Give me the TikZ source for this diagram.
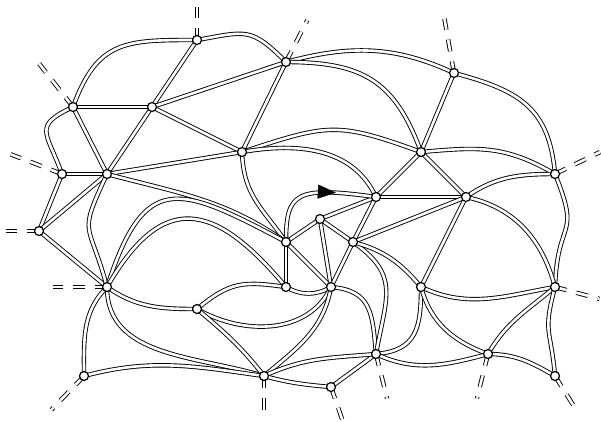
\documentclass[tikz,border=0pt]{standalone}
\usetikzlibrary{arrows.meta,decorations.markings}
\tikzset{
  dline/.style={double, double distance=2.6pt, line width=0.9pt},
  stubline/.style={dline, dash pattern=on 12pt off 10pt},
  vert/.style={fill=white, draw, line width=1.2pt},
}
\begin{document}
\begin{tikzpicture}[x=1pt,y=1pt]
    \useasboundingbox (0,0) rectangle (601,-421);
    % Knoten
    \coordinate (a) at (197,-40);
    \coordinate (b) at (286,-62);
    \coordinate (c) at (454,-73);
    \coordinate (d) at (73,-107);
    \coordinate (e) at (152,-107);
    \coordinate (f) at (242,-152);
    \coordinate (g) at (421,-152);
    \coordinate (h) at (62,-174);
    \coordinate (i) at (107,-174);
    \coordinate (j) at (555,-174);
    \coordinate (k) at (376,-197);
    \coordinate (l) at (466,-197);
    \coordinate (m) at (320,-219);
    \coordinate (n) at (39,-231);
    \coordinate (o) at (286,-242);
    \coordinate (p) at (353,-242);
    \coordinate (q) at (107,-287);
    \coordinate (r) at (286,-287);
    \coordinate (s) at (331,-287);
    \coordinate (t) at (421,-287);
    \coordinate (u) at (555,-287);
    \coordinate (v) at (197,-309);
    \coordinate (w) at (376,-354);
    \coordinate (x) at (488,-354);
    \coordinate (y) at (84,-376);
    \coordinate (z) at (264,-376);
    \coordinate (aa) at (331,-387);
    \coordinate (ab) at (555,-376);
    % Halbkanten nach aussen
    \foreach \p/\ang/\len in {a/90/33, b/63/47, c/100/55, d/128/55, h/159/55,
        n/180/33, q/180/54, j/26/50, u/-15/46, ab/-58/35, x/-104/46,
        w/-76/46, aa/-71/34, z/-90/34, y/-134/47}
    \draw[stubline] (\p) -- ++(\ang:\len);
    % gerade Kanten
    \foreach \s/\t in {a/e, b/e, b/f, c/g, d/e, d/i, e/f, e/i, f/i, g/k, g/l,
        h/i, h/n, i/n, k/l, k/m, k/p, l/p, l/t, m/o, m/p, m/s, o/r, o/s,
        p/s, n/q, w/aa}
    \draw[dline] (\s) -- (\t);
    % gebogene Kanten
    \draw[dline] (a) to[out=10,in=135,looseness=1.4] (b);
    \draw[dline] (a) to[out=180,in=70,looseness=1.3] (d);
    \draw[dline] (d) to[out=205,in=110,looseness=1.7] (h);
    \draw[dline] (b) to[out=15,in=155] (c);
    \draw[dline] (b) to[out=0,in=110,looseness=1.2] (g);
    \draw[dline] (c) to[out=-15,in=95,looseness=1.2] (j);
    \draw[dline] (f) to[out=18,in=160,looseness=1.3] (g);
    \draw[dline] (f) to[out=10,in=115] (k);
    \draw[dline] (f) to[out=-88,in=125,looseness=1.1] (o);
    \draw[dline] (g) to[out=5,in=150,looseness=1.1] (j);
    \draw[dline] (l) to[out=35,in=180] (j);
    \draw[dline] (j) to[out=-68,in=88,looseness=1.6] (u);
    \draw[dline] (l) to[out=-12,in=105] (u);
    \draw[dline] (i) to[out=-15,in=145] (o);
    \draw[dline] (i) to[out=-115,in=105,looseness=1.6] (q);
    \draw[dline] (q) to[out=72,in=152,looseness=1.7] (o);
    \draw[dline] (q) to[out=60,in=130,looseness=1.6] (r);
    \draw[dline] (q) to[out=-35,in=180] (v);
    \draw[dline] (q) to[out=-90,in=163] (z);
    \draw[dline] (q) to[out=-135,in=90] (y);
    \draw[dline] (y) to[out=15,in=172] (z);
    \draw[dline] (v) to[out=40,in=172,looseness=1.2] (r);
    \draw[dline] (r) to[out=-30,in=-150] (s);
    \draw[dline] (v) to[out=-30,in=-115] (s);
    \draw[dline] (v) to[out=-40,in=128] (z);
    \draw[dline] (s) to[out=-100,in=40] (z);
    \draw[dline] (z) to[out=25,in=185] (w);
    \draw[dline] (z) to[out=-15,in=175] (aa);
    \draw[dline] (s) to[out=-5,in=95,looseness=1.3] (w);
    \draw[dline] (p) to[out=-35,in=80,looseness=1.3] (w);
    \draw[dline] (p) to[out=-15,in=130] (t);
    \draw[dline] (t) to[out=-90,in=5,looseness=1.3] (w);
    \draw[dline] (t) to[out=-75,in=160] (x);
    \draw[dline] (t) to[out=-25,in=190] (u);
    \draw[dline] (u) to[out=-140,in=60] (x);
    \draw[dline] (u) to[out=-105,in=95,looseness=1.4] (ab);
    \draw[dline] (x) to[out=0,in=150] (ab);
    \draw[dline] (w) to[out=-25,in=195] (x);
    % Wurzelkante mit Pfeil
    \draw[dline] (o) .. controls (286,-192) and (296,-186) .. (k);
    \path[decorate, decoration={markings, mark=at position 0.68 with
        {\arrow{Triangle[length=18pt,width=14pt]}}}]
        (o) .. controls (286,-192) and (296,-186) .. (k);
    \foreach \p in {a,...,z,aa,ab}
    \draw[vert] (\p) circle (4.5pt);
\end{tikzpicture}
\end{document}
